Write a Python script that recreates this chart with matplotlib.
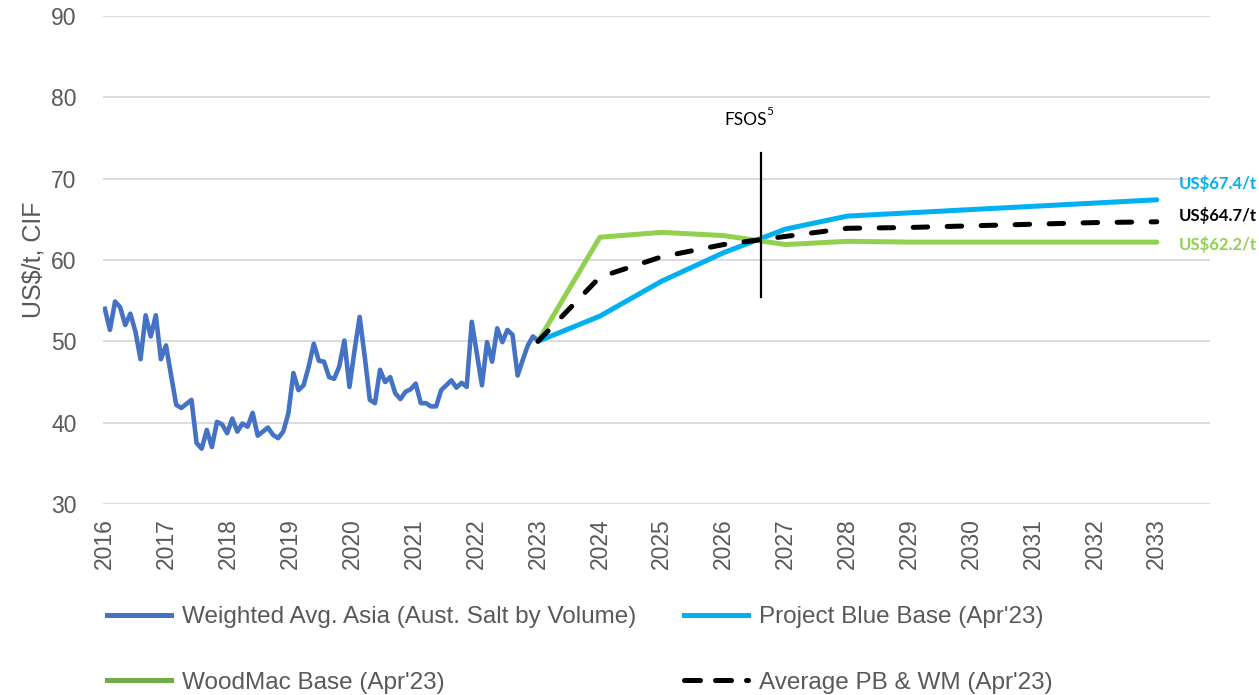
import numpy as np
import matplotlib
matplotlib.use("Agg")
import matplotlib.pyplot as plt
from matplotlib.lines import Line2D

# ---- data ----
hist_values = [54.0, 51.4, 54.9, 54.2, 52.0, 53.4, 51.2, 47.8, 53.2, 50.6, 53.2, 47.8,
               49.5, 45.8, 42.2, 41.8, 42.3, 42.8, 37.5, 36.8, 39.1, 37.0, 40.1, 39.8,
               38.7, 40.5, 38.9, 39.9, 39.5, 41.2, 38.4, 38.9, 39.4, 38.5, 38.1, 38.9,
               41.1, 46.1, 44.0, 44.6, 46.9, 49.7, 47.6, 47.5, 45.6, 45.4, 46.9, 50.1,
               44.4, 48.9, 53.0, 48.1, 42.8, 42.4, 46.5, 45.0, 45.6, 43.6, 42.9, 43.8,
               44.1, 44.8, 42.4, 42.4, 42.0, 42.0, 44.0, 44.6, 45.2, 44.3, 44.9, 44.4,
               52.4, 48.5, 44.6, 49.9, 47.5, 51.6, 49.9, 51.4, 50.8, 45.8, 47.7, 49.5,
               50.6, 50.1]
hist_start, hist_end = 2016.0, 2023.0

fc_years = [2023, 2024, 2025, 2026, 2027, 2028, 2029, 2030, 2031, 2032, 2033]
pb_values = [50.0, 53.1, 57.4, 60.9, 63.8, 65.4, 65.8, 66.2, 66.6, 67.0, 67.4]
wm_values = [50.0, 62.8, 63.4, 63.0, 61.9, 62.3, 62.2, 62.2, 62.2, 62.2, 62.2]
avg_values = [50.0, 57.9, 60.4, 61.9, 62.9, 63.9, 64.0, 64.2, 64.4, 64.6, 64.7]

year_ticks = list(range(2016, 2034))
y_ticks = [30, 40, 50, 60, 70, 80, 90]

fsos_x = 2026.6
fsos_range = (55.4, 73.1)

end_labels = ["US$67.4/t", "US$64.7/t", "US$62.2/t"]
end_label_y = [69.4, 65.5, 61.9]

legend_names = ["Weighted Avg. Asia (Aust. Salt by Volume)", "Project Blue Base (Apr'23)",
                "WoodMac Base (Apr'23)", "Average PB & WM (Apr'23)"]

# ---- style ----
C_HIST = "#4472C4"
C_PB = "#00B0F0"
C_WM = "#92D050"
C_AVG = "#000000"
C_GRID = "#D9D9D9"
C_TXT = "#595959"

plt.rcParams['font.family'] = ['Liberation Sans', 'DejaVu Sans']

fig = plt.figure(figsize=(12.59, 6.95), dpi=100)
ax = fig.add_axes([103/1259, 1-504/695, (1210-103)/1259, (504-16)/695])

hist_x = np.linspace(hist_start, hist_end, len(hist_values))
ax.plot(hist_x, hist_values, color=C_HIST, lw=3.3, solid_joinstyle='round', zorder=3)
ax.plot(fc_years, pb_values, color=C_PB, lw=3.6, solid_capstyle='round', zorder=4)
ax.plot(fc_years, wm_values, color=C_WM, lw=3.6, solid_capstyle='round', zorder=4)
ax.plot(fc_years, avg_values, color=C_AVG, lw=3.6, dashes=(2.9, 3.9),
        dash_capstyle='round', zorder=5)

ax.plot([fsos_x, fsos_x], fsos_range, color="black", lw=1.6, zorder=6)
ax.text(fsos_x - 0.25, 76.2, "FSOS", family='Lato', fontsize=12.5, color="black",
        ha='center', va='bottom')
ax.text(fsos_x + 0.09, 77.6, "5", family='Lato', fontsize=8.5, color="black",
        ha='left', va='bottom')

for lab, yy, c in zip(end_labels, end_label_y, [C_PB, C_AVG, C_WM]):
    ax.text(2033.35, yy, lab, family='Lato', fontweight='bold', fontsize=12,
            color=c, ha='left', va='center', clip_on=False)

ax.set_xlim(2015.97, 2033.86)
ax.set_ylim(30, 90)
ax.set_yticks(y_ticks)
ax.set_xticks(year_ticks)
ax.set_xticklabels([str(y) for y in year_ticks], rotation=90)
ax.tick_params(axis='both', length=0, labelsize=16.5, labelcolor=C_TXT)
ax.tick_params(axis='x', pad=10)
ax.tick_params(axis='y', pad=19)
ax.grid(axis='y', color=C_GRID, lw=1.3)
ax.grid(axis='x', visible=False)
for s in ax.spines.values():
    s.set_visible(False)
ax.set_ylabel("US$/t, CIF", fontsize=18, color=C_TXT, labelpad=4)

h_hist = Line2D([], [], color=C_HIST, lw=3.6)
h_pb = Line2D([], [], color=C_PB, lw=3.6)
h_wm = Line2D([], [], color="#70AD47", lw=3.6)
h_avg = Line2D([], [], color=C_AVG, lw=3.6, dashes=(3.2, 3.0), dash_capstyle='round')
# column-major order for a 2x2 legend: row1 = hist, pb ; row2 = wm, avg
handles = [h_hist, h_wm, h_pb, h_avg]
labels = [legend_names[0], legend_names[2], legend_names[1], legend_names[3]]
leg = fig.legend(handles, labels, loc='upper left', bbox_to_anchor=(107/1259, 1-606/695),
                 ncol=2, frameon=False, fontsize=17.5, labelcolor=C_TXT, handlelength=2.65,
                 handletextpad=0.45, columnspacing=1.95, labelspacing=1.8, borderpad=0,
                 borderaxespad=0)

fig.savefig("out.png", dpi=100)
